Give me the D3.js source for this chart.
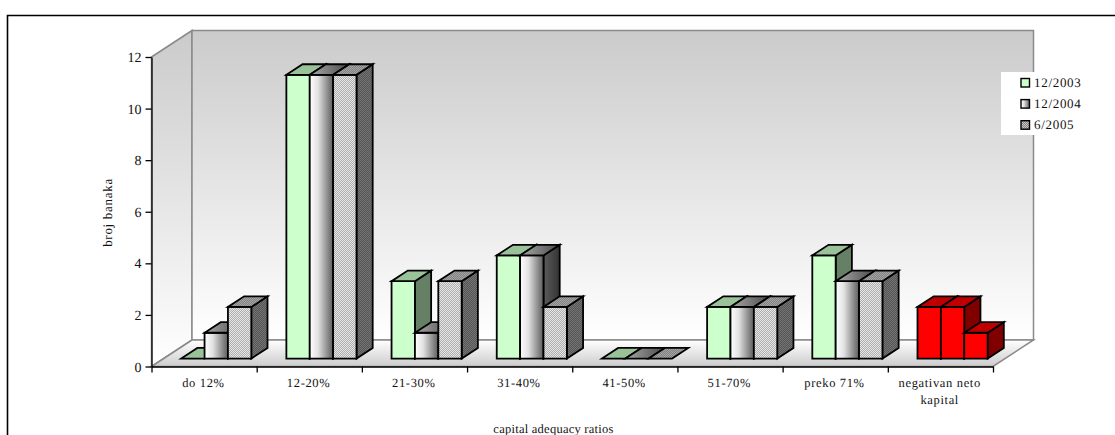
<!DOCTYPE html>
<html>
<head>
<meta charset="utf-8">
<script src="https://cdn.jsdelivr.net/npm/d3@7/dist/d3.min.js"></script>
<style>
html,body{margin:0;padding:0;background:#fff;overflow:hidden}
svg{display:block}
text{font-family:"Liberation Serif","Times New Roman",serif;fill:#111;text-rendering:geometricPrecision}
</style>
</head>
<body>
<svg id="chart" width="1115" height="435"></svg>
<script>
// Banks by capital adequacy ratio, three reporting dates
const categories = [["do 12%"],["12-20%"],["21-30%"],["31-40%"],["41-50%"],["51-70%"],["preko 71%"],["negativan neto","kapital"]];
const seriesNames = ["12/2003","12/2004","6/2005"];
const s2003 = [0,11,3,4,0,2,4,2];
const s2004 = [1,11,1,4,0,2,3,2];
const s2005 = [2,11,3,2,0,2,3,1];
const seriesValues = [s2003,s2004,s2005];
const yTicks = [0,2,4,6,8,10,12];
const negativeCategory = 7;

const svg = d3.select("#chart");
const defs = svg.append("defs");

// Frame of the plot box: front floor edge and the oblique depth vector
const left = 151.5, right = 993, floorY = 366.5, topY = 57;
const depthX = 40.5, depthY = -26.5;
const barNear = 0.3, barFar = 0.7;

const yScale = d3.scaleLinear().domain([0,12]).range([floorY, topY]);
const xEdge = d3.scaleLinear().domain([0,categories.length]).range([left,right]);
const xBand = d3.scaleBand().domain(d3.range(categories.length)).range([left,right]).paddingInner(0).paddingOuter(0);
const xInner = d3.scaleBand().domain(d3.range(seriesNames.length)).range([0,xBand.bandwidth()*2/3]);
const groupInset = xBand.bandwidth()/6;

function linear(id, x2, y2, stops){
  const g = defs.append("linearGradient").attr("id",id)
    .attr("x1",0).attr("y1",0).attr("x2",x2).attr("y2",y2);
  stops.forEach(([o,c])=>g.append("stop").attr("offset",o).attr("stop-color",c));
}
function hatch(id, bg, fg){
  const p = defs.append("pattern").attr("id",id).attr("width",2).attr("height",2)
    .attr("patternUnits","userSpaceOnUse");
  p.append("rect").attr("width",2).attr("height",2).attr("fill",bg);
  p.append("path").attr("d","M-0.5,0.5L0.5,-0.5M0,2L2,0M1.5,2.5L2.5,1.5").attr("stroke",fg).attr("stroke-width",0.8);
}
linear("wall",0,1,[[0,"#cbcbcb"],[1,"#ffffff"]]);
linear("floor",0,1,[[0,"#ffffff"],[1,"#cccccc"]]);
linear("chromeFront",1,0,[[0,"#ffffff"],[0.35,"#e2e2e2"],[1,"#5c5c5c"]]);
linear("chromeTop",1,0,[[0,"#a8a8a8"],[1,"#4a4a4a"]]);
linear("chromeSide",1,0,[[0,"#5c5c5c"],[1,"#333333"]]);
hatch("hatchFront","#e6e6e6","#a0a0a0");
hatch("hatchTop","#a4a4a4","#787878");
hatch("hatchSide","#747474","#4c4c4c");

const faces = [
  {front:"#ccffcc", top:"#99c299", side:"#668066"},
  {front:"url(#chromeFront)", top:"url(#chromeTop)", side:"url(#chromeSide)"},
  {front:"url(#hatchFront)", top:"url(#hatchTop)", side:"url(#hatchSide)"}
];
const negativeFaces = {front:"#ff0000", top:"#c00000", side:"#800000"};

const poly = pts => pts.map(p=>p.join(",")).join(" ");
const y0 = yScale(0);

// Walls and floor
const box = svg.append("g");
const wallStyle = s => s.attr("stroke","#8a8a8a").attr("stroke-width",1.5);
box.append("polygon").attr("points",poly([[left,topY],[left+depthX,topY+depthY],[left+depthX,y0+depthY],[left,y0]]))
  .attr("fill","url(#wall)").call(wallStyle);
box.append("polygon").attr("points",poly([[left+depthX,topY+depthY],[right+depthX,topY+depthY],[right+depthX,y0+depthY],[left+depthX,y0+depthY]]))
  .attr("fill","url(#wall)").call(wallStyle);
box.append("polygon").attr("points",poly([[left,y0],[right,y0],[right+depthX,y0+depthY],[left+depthX,y0+depthY]]))
  .attr("fill","url(#floor)").call(wallStyle);

// Bars, painted left to right so later bars cover earlier side faces
const barsLayer = svg.append("g")
  .attr("stroke","#000").attr("stroke-width",1.8).attr("stroke-linejoin","miter");
categories.forEach((_,c)=>{
  seriesValues.forEach((vals,s)=>{
    const v = vals[c];
    const f = c===negativeCategory ? negativeFaces : faces[s];
    const x0 = xBand(c)+groupInset+xInner(s)+depthX*barNear;
    const x1 = x0+xInner.bandwidth();
    const bot = yScale(0)+depthY*barNear;
    const top = bot-(y0-yScale(v));
    const dx = depthX*(barFar-barNear), dy = depthY*(barFar-barNear);
    const g = barsLayer.append("g");
    if(v>0){
      g.append("polygon").attr("points",poly([[x1,top],[x1+dx,top+dy],[x1+dx,bot+dy],[x1,bot]])).attr("fill",f.side);
      g.append("polygon").attr("points",poly([[x0,top],[x1,top],[x1,bot],[x0,bot]])).attr("fill",f.front);
    }
    g.append("polygon").attr("points",poly([[x0,top],[x1,top],[x1+dx,top+dy],[x0+dx,top+dy]])).attr("fill",f.top);
  });
});

// Axes
const yAxis = d3.axisLeft(yScale).tickValues(yTicks).tickSize(6).tickSizeOuter(0).tickPadding(4).tickFormat(d3.format("d"));
const gy = svg.append("g").attr("transform",`translate(${left},0)`).call(yAxis);
gy.selectAll("text").style("font-size","14px").attr("dy","0.33em");
const xAxis = d3.axisBottom(xEdge).tickValues(d3.range(categories.length+1)).tickSize(6).tickSizeOuter(0).tickFormat("");
const gx = svg.append("g").attr("transform",`translate(0,${y0})`).call(xAxis);
[gy,gx].forEach(g=>{
  g.attr("font-family",null);
  g.selectAll("path,line").attr("stroke","#000").attr("stroke-width",1.3);
});

// Category labels
const labels = svg.append("g").attr("text-anchor","middle").style("font-size","12.5px").style("letter-spacing","0.65px");
categories.forEach((lines,c)=>{
  lines.forEach((line,i)=>{
    labels.append("text").attr("x",xBand(c)+xBand.bandwidth()/2-0.7).attr("y",387+i*16.8).text(line);
  });
});

// Axis titles
svg.append("text").attr("x",553.5).attr("y",433).attr("text-anchor","middle")
  .style("font-size","12.5px").style("letter-spacing","0.25px").text("capital adequacy ratios");
svg.append("text").attr("transform","translate(112,212.5) rotate(-90)").attr("text-anchor","middle")
  .style("font-size","13px").style("letter-spacing","0.7px").text("broj banaka");

// Legend
const legend = svg.append("g");
legend.append("rect").attr("x",1001).attr("y",72).attr("width",114).attr("height",63).attr("fill","#fff");
const legendSwatch = ["#ccffcc","url(#chromeFront)","url(#hatchSwatch)"];
hatch("hatchSwatch","#c8c8c8","#707070");
seriesNames.forEach((n,i)=>{
  const yy = 82.7+i*21.1;
  legend.append("rect").attr("x",1021).attr("y",yy-4.2).attr("width",8.5).attr("height",8.5)
    .attr("fill",legendSwatch[i]).attr("stroke","#000").attr("stroke-width",1.4);
  legend.append("text").attr("x",1034).attr("y",yy+4.5)
    .style("font-size","13px").style("letter-spacing","0.7px").text(n);
});

// Outer frame, open towards the page edges
svg.append("path").attr("d","M1115,15.5H7.5V435").attr("fill","none").attr("stroke","#000").attr("stroke-width",1.6);
</script>
</body>
</html>
